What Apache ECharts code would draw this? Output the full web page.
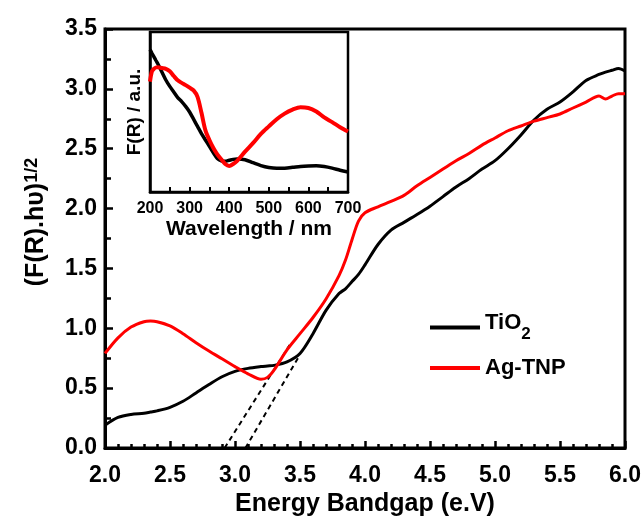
<!DOCTYPE html>
<html>
<head>
<meta charset="utf-8">
<script src="https://cdn.jsdelivr.net/npm/echarts@6/dist/echarts.min.js"></script>
<style>
  html, body { margin: 0; padding: 0; background: #fff; }
  #chart { width: 643px; height: 518px; }
</style>
</head>
<body>
<div id="chart"></div>
<script>
// Photon energy (eV) and Kubelka-Munk transformed reflectance (F(R)·hυ)^1/2
const energy = [2.0, 2.1, 2.2, 2.3, 2.35, 2.4, 2.5, 2.6, 2.7, 2.8, 2.9, 3.0, 3.1, 3.2, 3.25, 3.3, 3.4, 3.5,
  3.6, 3.7, 3.8, 3.85, 3.9, 3.95, 4.0, 4.1, 4.2, 4.3, 4.4, 4.5, 4.6, 4.7, 4.8, 4.9, 5.0, 5.1, 5.2, 5.3,
  5.4, 5.5, 5.6, 5.7, 5.8, 5.85, 5.9, 5.95, 6.0];
const tio2 = [0.19, 0.255, 0.28, 0.29, 0.30, 0.31, 0.34, 0.39, 0.46, 0.53, 0.595, 0.64, 0.665, 0.68, 0.685, 0.69, 0.72, 0.79,
  0.955, 1.15, 1.29, 1.33, 1.39, 1.45, 1.53, 1.70, 1.82, 1.885, 1.95, 2.02, 2.10, 2.18, 2.25, 2.33, 2.40, 2.50, 2.615, 2.74,
  2.83, 2.89, 2.975, 3.07, 3.12, 3.14, 3.155, 3.17, 3.15];
const agTnp = [0.79, 0.92, 1.01, 1.055, 1.06, 1.055, 1.02, 0.955, 0.88, 0.81, 0.745, 0.68, 0.62, 0.575, 0.59, 0.65, 0.82, 0.955,
  1.09, 1.245, 1.44, 1.57, 1.74, 1.895, 1.965, 2.015, 2.06, 2.11, 2.19, 2.26, 2.33, 2.40, 2.46, 2.53, 2.59, 2.65, 2.69, 2.73,
  2.76, 2.79, 2.84, 2.89, 2.94, 2.915, 2.94, 2.96, 2.96];

// Linear extrapolations of the absorption edges down to the energy axis
const tangentAg = [[2.92, 0], [3.42, 0.86]];
const tangentTiO2 = [[3.08, 0], [3.50, 0.78]];

// Inset: diffuse reflectance spectra F(R) versus wavelength (arbitrary units)
const wavelength = [200, 205, 210, 215, 220, 230, 240, 250, 260, 270, 280, 290, 300, 310, 320, 330, 340, 350,
  360, 370, 380, 390, 400, 410, 420, 440, 460, 480, 500, 520, 540, 560, 580, 600, 620, 640, 660, 680, 700];
const tio2Abs = [89, 86.7, 84.5, 82.2, 80, 75, 70, 66, 62.5, 59, 56.5, 53.5, 50, 45.5, 41, 36.5, 32.5, 28.5,
  24.5, 21, 19.5, 19.2, 19.8, 20.4, 20.6, 20.2, 18.3, 16.5, 15.3, 14.8, 14.9, 15.4, 16, 16.3, 16.4, 15.9, 14.9, 13.6, 12.5];
const agTnpAbs = [69, 75.5, 77, 77.8, 78, 77.5, 77, 75.5, 72.5, 69.8, 68.2, 66.8, 65.2, 63.5, 59.5, 49.5, 38.5, 32.5,
  27.5, 23.5, 20.5, 17.5, 16.3, 17.5, 19.5, 25.2, 30.5, 36.3, 41, 45.5, 49, 51.5, 53, 52.5, 50.3, 46.6, 43.7, 40.5, 37.8];

const energyTicks = [2.0, 2.5, 3.0, 3.5, 4.0, 4.5, 5.0, 5.5, 6.0];
const valueTicks = [0.0, 0.5, 1.0, 1.5, 2.0, 2.5, 3.0, 3.5];
const wavelengthTicks = [200, 300, 400, 500, 600, 700];

const pair = (xs, ys) => xs.map((x, i) => [x, ys[i]]);
const FONT = '"Liberation Sans", Arial, sans-serif';
const BLACK = '#000000';
const RED = '#ff0000';

const chart = echarts.init(document.getElementById('chart'), null, { renderer: 'canvas' });

chart.setOption({
  animation: false,
  backgroundColor: '#ffffff',
  textStyle: { fontFamily: FONT },
  grid: [
    { left: 105, right: 18, top: 29, bottom: 70, outerBoundsMode: 'none', containLabel: false,
      show: true, borderWidth: 3, borderColor: BLACK },
    { left: 150, top: 32, width: 198, height: 160, outerBoundsMode: 'none', containLabel: false,
      show: true, borderWidth: 2.5, borderColor: BLACK, backgroundColor: '#ffffff' }
  ],
  xAxis: [
    {
      gridIndex: 0, type: 'value',
      min: energyTicks[0], max: energyTicks[energyTicks.length - 1], interval: energyTicks[1] - energyTicks[0],
      axisLine: { lineStyle: { color: BLACK, width: 3 } },
      axisTick: { inside: true, length: 7, lineStyle: { color: BLACK, width: 2.5 } },
      minorTick: { show: true, splitNumber: 5, length: 4, lineStyle: { color: BLACK, width: 2.5 } },
      splitLine: { show: false },
      axisLabel: { margin: 16, fontSize: 23, fontWeight: 'bold', color: BLACK, fontFamily: FONT,
        formatter: v => v.toFixed(1) },
      name: 'Energy Bandgap (e.V)', nameLocation: 'middle', nameGap: 43,
      nameTextStyle: { fontSize: 25, fontWeight: 'bold', color: BLACK, fontFamily: FONT }
    },
    {
      gridIndex: 1, type: 'value',
      min: wavelengthTicks[0], max: wavelengthTicks[wavelengthTicks.length - 1], interval: wavelengthTicks[1] - wavelengthTicks[0],
      axisLine: { lineStyle: { color: BLACK, width: 2.5 } },
      axisTick: { inside: true, length: 5, lineStyle: { color: BLACK, width: 2 } },
      minorTick: { show: true, splitNumber: 2, length: 5, lineStyle: { color: BLACK, width: 2 } },
      splitLine: { show: false },
      axisLabel: { margin: 9, fontSize: 16, fontWeight: 'bold', color: BLACK, fontFamily: FONT },
      name: 'Wavelength / nm', nameLocation: 'middle', nameGap: 27,
      nameTextStyle: { fontSize: 21, fontWeight: 'bold', color: BLACK, fontFamily: FONT }
    }
  ],
  yAxis: [
    {
      gridIndex: 0, type: 'value',
      min: valueTicks[0], max: valueTicks[valueTicks.length - 1], interval: valueTicks[1] - valueTicks[0],
      axisLine: { lineStyle: { color: BLACK, width: 3 } },
      axisTick: { inside: true, length: 8, lineStyle: { color: BLACK, width: 2.5 } },
      minorTick: { show: true, splitNumber: 2, length: 6, lineStyle: { color: BLACK, width: 2.5 } },
      splitLine: { show: false },
      axisLabel: { margin: 8, fontSize: 23, fontWeight: 'bold', color: BLACK, fontFamily: FONT,
        formatter: v => v.toFixed(1) }
    },
    {
      gridIndex: 1, type: 'value', min: 0, max: 100,
      axisLine: { show: true, lineStyle: { color: BLACK, width: 2.5 } },
      axisTick: { show: false },
      axisLabel: { show: false },
      splitLine: { show: false },
      name: 'F(R) / a.u.', nameLocation: 'middle', nameGap: 6,
      nameTextStyle: { fontSize: 19, fontWeight: 'bold', color: BLACK, fontFamily: FONT }
    }
  ],
  legend: {
    data: ['TiO2', 'Ag-TNP'],
    orient: 'vertical', left: 425, top: 307,
    icon: 'rect', itemWidth: 50, itemHeight: 4, itemGap: 14,
    selectedMode: false,
    formatter: name => name === 'TiO2' ? '{m|TiO}{s|2}' : '{m|' + name + '}',
    textStyle: {
      color: BLACK, fontSize: 22, fontWeight: 'bold', fontFamily: FONT,
      rich: {
        m: { fontSize: 22, fontWeight: 'bold', color: BLACK, fontFamily: FONT, verticalAlign: 'top' },
        s: { fontSize: 17, fontWeight: 'bold', color: BLACK, fontFamily: FONT, verticalAlign: 'top', padding: [14, 0, 0, 0] }
      }
    }
  },
  graphic: [
    {
      type: 'text', x: 36, y: 222, rotation: Math.PI / 2,
      style: {
        text: '{m|(F(R).hυ)}{s|1/2}',
        align: 'center', verticalAlign: 'middle', fill: BLACK,
        rich: {
          m: { fontSize: 25, fontWeight: 'bold', fontFamily: FONT, fill: BLACK, verticalAlign: 'top' },
          s: { fontSize: 18, fontWeight: 'bold', fontFamily: FONT, fill: BLACK, verticalAlign: 'top' }
        }
      }
    }
  ],
  series: [
    {
      name: 'TiO2', type: 'line', xAxisIndex: 0, yAxisIndex: 0,
      data: pair(energy, tio2), smooth: 0.3, showSymbol: false, symbol: 'none',
      lineStyle: { color: BLACK, width: 3 }, itemStyle: { color: BLACK }, z: 3
    },
    {
      name: 'Ag-TNP', type: 'line', xAxisIndex: 0, yAxisIndex: 0,
      data: pair(energy, agTnp), smooth: 0.3, showSymbol: false, symbol: 'none',
      lineStyle: { color: RED, width: 3 }, itemStyle: { color: RED }, z: 4
    },
    {
      name: 'edge Ag-TNP', type: 'line', xAxisIndex: 0, yAxisIndex: 0,
      data: tangentAg, showSymbol: false, symbol: 'none',
      lineStyle: { color: BLACK, width: 2, type: [5, 4] }, z: 2
    },
    {
      name: 'edge TiO2', type: 'line', xAxisIndex: 0, yAxisIndex: 0,
      data: tangentTiO2, showSymbol: false, symbol: 'none',
      lineStyle: { color: BLACK, width: 2, type: [5, 4] }, z: 2
    },
    {
      name: 'TiO2 spectrum', type: 'line', xAxisIndex: 1, yAxisIndex: 1,
      data: pair(wavelength, tio2Abs), smooth: 0.3, showSymbol: false, symbol: 'none',
      lineStyle: { color: BLACK, width: 3.5 }, z: 5
    },
    {
      name: 'Ag-TNP spectrum', type: 'line', xAxisIndex: 1, yAxisIndex: 1,
      data: pair(wavelength, agTnpAbs), smooth: 0.3, showSymbol: false, symbol: 'none',
      lineStyle: { color: RED, width: 4 }, z: 6
    }
  ]
});
</script>
</body>
</html>
